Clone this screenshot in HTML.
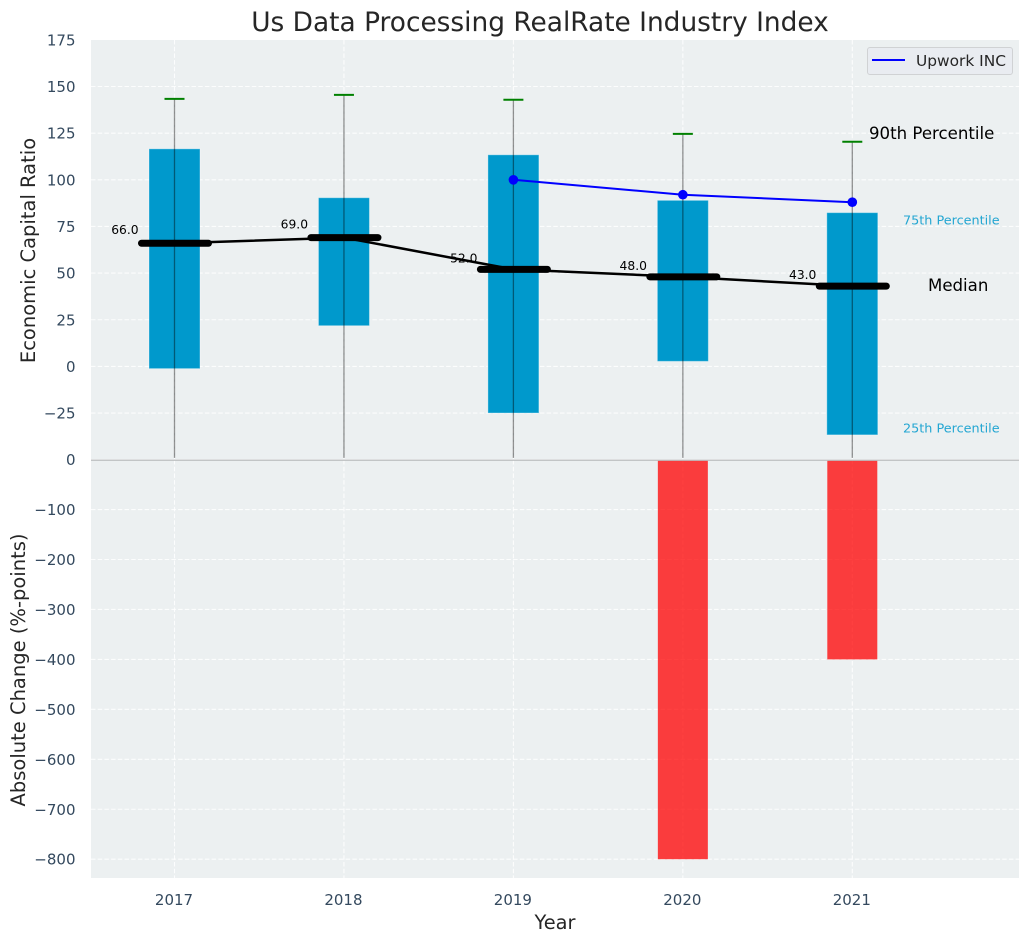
<!DOCTYPE html>
<html lang="en">
<head>
<meta charset="utf-8">
<title>Us Data Processing RealRate Industry Index</title>
<style>
html,body{margin:0;padding:0;background:#fff;width:1029px;height:942px;overflow:hidden}
svg{display:block;font-family:"DejaVu Sans","Liberation Sans",sans-serif}
</style>
</head>
<body>
<svg id="chart" xmlns="http://www.w3.org/2000/svg" width="1029" height="942" viewBox="0 0 1029 942">
  <rect x="91" y="40" width="928" height="419" fill="#ecf0f1"/>
  <rect x="91" y="460" width="928" height="418" fill="#ecf0f1"/>
  <g id="grid"></g>
  <g id="marks"></g>
  <g id="ticks"></g>
  <line x1="91" x2="1019" y1="460.2" y2="460.2" stroke="#bcbfc0" stroke-width="1.3"/>
  <text x="540" y="31" text-anchor="middle" font-size="26.400px" fill="#262626">Us Data Processing RealRate Industry Index</text>
  <text x="555" y="929" text-anchor="middle" font-size="19.400px" fill="#262626">Year</text>
  <text transform="translate(35 250.5) rotate(-90)" text-anchor="middle" font-size="19.500px" fill="#262626">Economic Capital Ratio</text>
  <text transform="translate(25 670) rotate(-90)" text-anchor="middle" font-size="19.500px" fill="#262626">Absolute Change (%-points)</text>
  <text x="869" y="139" font-size="16.600px" fill="#000">90th Percentile</text>
  <text x="903" y="224.500" font-size="12.800px" fill="#0099cc" fill-opacity="0.85">75th Percentile</text>
  <text x="928" y="291" font-size="16.600px" fill="#000">Median</text>
  <text x="903" y="432.500" font-size="12.800px" fill="#0099cc" fill-opacity="0.85">25th Percentile</text>
  <g>
    <rect x="867.500" y="47.500" width="145" height="27" rx="2.500" fill="#e9ecf1" stroke="#d0d2d4" stroke-width="1"/>
    <line x1="872" x2="905" y1="60" y2="60" stroke="#0000ff" stroke-width="2"/>
    <text x="916" y="66" font-size="15.400px" fill="#262626">Upwork INC</text>
  </g>
</svg>
<script>
const years = [2017, 2018, 2019, 2020, 2021];
const q75 = [116.6, 90.4, 113.4, 89, 82.4];
const q25 = [-1.2, 21.8, -25, 2.7, -36.7];
const whiskerHigh = [143.4, 145.5, 142.9, 124.6, 120.4];
const whiskerLow = [-49, -49, -49, -49, -49];
const medians = [66, 69, 52, 48, 43];
const upworkYears = [2019, 2020, 2021];
const upworkValues = [100, 92, 88];
const changeYears = [2020, 2021];
const changeValues = [-800, -400];
const topTicks = [175, 150, 125, 100, 75, 50, 25, 0, -25];
const bottomTicks = [0, -100, -200, -300, -400, -500, -600, -700, -800];

const NS = 'http://www.w3.org/2000/svg';
const xScale = function (v) { return 174.5 + (v - 2017) * 169.45; };
const yTop = function (v) { return 366.4 - v * 1.866; };
const yBottom = function (v) { return 459.6 - v * 0.4995; };
const fmt = function (v) { return String(v).replace('-', '\u2212'); };

function make(parent, tag, attrs, text) {
  const el = document.createElementNS(NS, tag);
  Object.keys(attrs).forEach(function (k) { el.setAttribute(k, attrs[k]); });
  if (text !== undefined) el.textContent = text;
  parent.appendChild(el);
  return el;
}

const grid = document.getElementById('grid');
const marks = document.getElementById('marks');
const ticks = document.getElementById('ticks');
const gridStyle = { stroke: '#ffffff', 'stroke-width': 1.1, 'stroke-opacity': 0.85, 'stroke-dasharray': '4.5 2.2' };

years.forEach(function (yr) {
  const x = xScale(yr);
  const g1 = make(grid, 'line', Object.assign({ x1: x, x2: x, y1: 40, y2: 459 }, gridStyle));
  
  
  const g2 = make(grid, 'line', Object.assign({ x1: x, x2: x, y1: 460, y2: 878 }, gridStyle));
  
  
  const t = make(ticks, 'text', { x: x - 0.5, y: 905, 'text-anchor': 'middle', 'font-size': '15px', fill: '#34495e' }, String(yr));
  
  
});

topTicks.forEach(function (v) {
  const y = yTop(v);
  if (v !== 175) {
    const g = make(grid, 'line', Object.assign({ x1: 91, x2: 1019, y1: y, y2: y }, gridStyle));
    
    
  }
  const t = make(ticks, 'text', { x: 75.5, y: y + 5.5, 'text-anchor': 'end', 'font-size': '15px', fill: '#34495e' }, fmt(v));
  
  
});

bottomTicks.forEach(function (v) {
  const y = yBottom(v);
  if (v !== 0) {
    const g = make(grid, 'line', Object.assign({ x1: 91, x2: 1019, y1: y, y2: y }, gridStyle));
    
    
  }
  const t = make(ticks, 'text', { x: 75.5, y: y + 5.5, 'text-anchor': 'end', 'font-size': '15px', fill: '#34495e' }, fmt(v));
  
  
});

changeYears.forEach(function (yr, i) {
  const x = xScale(yr);
  const y0 = yBottom(0);
  const y1 = yBottom(changeValues[i]);
  const bar = make(marks, 'rect', { x: x - 25, y: y0, width: 50, height: y1 - y0, fill: '#ff0000', 'fill-opacity': 0.75 });
  
  
});

years.forEach(function (yr, i) {
  const x = xScale(yr);
  const top = yTop(q75[i]);
  const bottom = yTop(q25[i]);
  const bar = make(marks, 'rect', { x: x - 25.5, y: top, width: 51, height: bottom - top, fill: '#0099cc', stroke: '#ffffff', 'stroke-opacity': 0.35, 'stroke-width': 1 });
  
  
});

years.forEach(function (yr, i) {
  const x = xScale(yr);
  const whisker = make(marks, 'line', { x1: x, x2: x, y1: yTop(whiskerHigh[i]), y2: yTop(whiskerLow[i]), stroke: '#000000', 'stroke-opacity': 0.42, 'stroke-width': 1.3 });
  
  
  const cap = make(marks, 'line', { x1: x - 10, x2: x + 10, y1: yTop(whiskerHigh[i]), y2: yTop(whiskerHigh[i]), stroke: '#008000', 'stroke-width': 2 });
  
  
});

const medianPoints = years.map(function (yr, i) { return xScale(yr) + ',' + yTop(medians[i]); }).join(' ');
const medianLine = make(marks, 'polyline', { points: medianPoints, fill: 'none', stroke: '#000000', 'stroke-width': 2.5 });



years.forEach(function (yr, i) {
  const x = xScale(yr);
  const y = yTop(medians[i]);
  const seg = make(marks, 'line', { x1: x - 33, x2: x + 34, y1: y, y2: y, stroke: '#000000', 'stroke-width': 7, 'stroke-linecap': 'round' });
  
  
  const label = make(marks, 'text', { x: x - 63.3, y: y - (i < 2 ? 9 : 7), 'font-size': '12.300px', fill: '#000000' }, medians[i].toFixed(1));
  
  
});

const upworkPoints = upworkYears.map(function (yr, i) { return xScale(yr) + ',' + yTop(upworkValues[i]); }).join(' ');
const upworkLine = make(marks, 'polyline', { points: upworkPoints, fill: 'none', stroke: '#0000ff', 'stroke-width': 2 });



upworkYears.forEach(function (yr, i) {
  const dot = make(marks, 'circle', { cx: xScale(yr), cy: yTop(upworkValues[i]), r: 4.8, fill: '#0000ff' });
  
  
});
</script>
</body>
</html>
